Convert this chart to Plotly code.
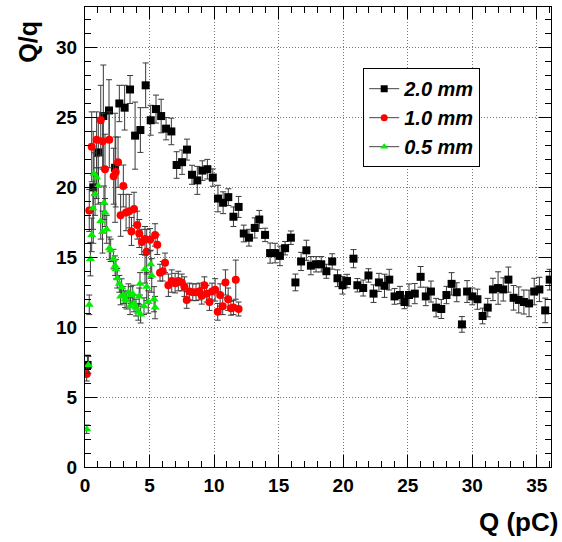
import plotly.graph_objects as go

# ---- data ----
x_2mm = [0.2, 0.64, 1.03, 1.42, 1.86, 2.33, 2.66, 3.07, 3.49, 3.88,
         4.29, 4.70, 5.09, 5.5, 5.9, 6.28, 6.69, 7.1, 7.52, 7.9,
         8.29, 8.7, 9.09, 9.48, 9.9, 10.3, 10.7, 11.1, 11.5, 11.9,
         12.3, 12.7, 13.15, 13.5, 13.95, 14.34, 14.73, 15.1, 15.5, 15.95,
         16.3, 16.74, 17.15, 17.5, 17.9, 18.3, 18.7, 19.15, 19.56, 19.95,
         20.3, 20.8, 21.1, 21.55, 21.96, 22.35, 22.77, 23.2, 23.57, 23.98,
         24.4, 24.75, 25.1, 25.55, 26.0, 26.4, 26.8, 27.2, 27.6, 28.0,
         28.4, 28.8, 29.2, 29.6, 30.0, 30.4, 30.8, 31.2, 31.6, 32.0,
         32.4, 32.8, 33.2, 33.6, 34.0, 34.4, 34.8, 35.2, 35.65, 36.0]
y_2mm = [7.3, 20.0, 22.5, 25.1, 25.5, 21.4, 26.0, 25.7, 27.0, 23.7,
         24.1, 27.3, 24.8, 25.6, 25.1, 24.2, 24.0, 21.6, 21.8, 22.7,
         20.9, 20.5, 21.2, 21.3, 20.7, 19.2, 18.9, 19.3, 17.9, 18.6,
         16.7, 16.4, 17.1, 17.7, 16.6, 15.3, 15.3, 15.1, 15.65, 16.4,
         13.2, 14.7, 15.5, 14.4, 14.5, 14.5, 14.0, 14.7, 13.5, 13.0,
         13.3, 14.9, 13.0, 12.8, 13.7, 12.4, 13.2, 12.96, 13.4, 12.2,
         12.3, 11.8, 12.3, 12.4, 13.6, 12.2, 12.55, 11.4, 11.3, 12.3,
         13.1, 12.5, 10.2, 12.55, 12.2, 12.0, 10.8, 11.4, 12.7, 12.8,
         12.7, 13.4, 12.1, 11.95, 11.8, 11.7, 12.55, 12.7, 11.2, 13.4]
e_2mm = [0.7, 4.0, 2.5, 3.65, 2.2, 3.9, 1.3, 1.6, 1.0, 2.4,
         1.6, 1.6, 1.07, 1.0, 1.2, 0.8, 0.95, 0.95, 0.87, 0.75,
         0.68, 1.0, 0.7, 0.7, 0.62, 0.95, 0.78, 0.6, 0.7, 0.75,
         0.6, 0.6, 0.72, 0.65, 0.48, 0.72, 0.7, 0.7, 0.48, 0.48,
         0.6, 0.65, 0.72, 0.65, 0.55, 0.55, 0.5, 0.55, 0.6, 0.63,
         0.48, 0.65, 0.48, 0.57, 0.48, 0.63, 0.65, 0.83, 0.74, 0.56,
         0.62, 0.48, 0.79, 0.72, 0.74, 0.66, 0.75, 0.66, 0.68, 0.62,
         0.8, 0.68, 0.56, 0.78, 0.6, 0.72, 0.56, 0.66, 0.8, 1.16,
         0.83, 0.9, 0.88, 0.93, 0.86, 0.95, 0.95, 0.87, 0.88, 0.74]

x_1mm = [0.13, 0.33, 0.52, 0.9, 1.22, 1.37, 1.55, 1.88, 2.22, 2.38,
         2.56, 2.76, 2.97, 3.18, 3.43, 3.6, 3.8, 4.05, 4.2, 4.4,
         4.65, 4.78, 5.04, 5.43, 5.6, 5.81, 6.02, 6.2, 6.46, 6.72,
         6.98, 7.23, 7.5, 7.7, 7.88, 8.09, 8.35, 8.6, 8.86, 9.04,
         9.25, 9.43, 9.64, 9.84, 10.08, 10.28, 10.47, 10.67, 10.88, 11.09,
         11.3, 11.5, 11.68, 11.9]
y_1mm = [6.65, 18.35, 22.9, 23.4, 24.8, 23.3, 21.3, 23.4, 20.8, 21.1,
         21.8, 18.0, 20.1, 18.2, 18.3, 16.85, 18.45, 17.3, 16.7, 16.1,
         16.3, 15.4, 16.25, 16.6, 15.9, 13.9, 14.0, 14.6, 13.0, 13.3,
         13.15, 13.3, 13.2, 12.9, 11.95, 12.55, 12.5, 12.5, 12.55, 12.25,
         13.0, 12.4, 11.8, 12.55, 12.67, 11.1, 12.3, 11.5, 13.2, 12.0,
         11.36, 11.4, 13.4, 11.3]
e_1mm = [0.5, 1.5, 2.5, 2.0, 2.5, 2.0, 2.5, 2.0, 2.0, 2.5,
         1.8, 1.5, 1.5, 1.3, 1.2, 1.0, 1.2, 1.0, 1.0, 0.9,
         0.9, 1.6, 0.8, 0.8, 0.7, 0.6, 0.7, 0.7, 0.8, 0.8,
         0.7, 0.7, 0.6, 0.7, 0.6, 0.6, 0.6, 0.6, 0.6, 0.6,
         0.6, 0.6, 0.6, 0.6, 0.8, 0.6, 0.8, 0.6, 0.9, 0.8,
         0.5, 0.5, 1.4, 0.5]

x_05mm = [0.13, 0.26, 0.33, 0.42, 0.52, 0.62, 0.7, 0.78, 0.9, 1.03,
          1.22, 1.36, 1.47, 1.55, 1.68, 1.88, 1.99, 2.2, 2.33, 2.4,
          2.5, 2.66, 2.76, 2.84, 2.97, 3.1, 3.23, 3.36, 3.49, 3.54,
          3.7, 3.8, 3.95, 4.13, 4.2, 4.26, 4.31, 4.57, 4.65, 4.78,
          4.9, 5.09, 5.17, 5.35, 5.43]
y_05mm = [2.7, 7.3, 11.6, 14.87, 16.6, 18.5, 20.97, 19.5, 20.7, 20.1,
          17.6, 16.8, 18.9, 18.2, 17.0, 15.65, 15.5, 14.87, 14.4, 14.15,
          13.5, 13.1, 12.2, 12.86, 12.3, 12.0, 11.9, 12.5, 11.5, 12.3,
          12.4, 11.7, 11.4, 11.1, 12.2, 13.1, 10.9, 11.5, 14.15, 12.9,
          11.8, 14.5, 13.7, 12.0, 11.4]
e_05mm = [0.3, 0.6, 0.7, 1.2, 1.2, 1.5, 1.5, 1.5, 1.5, 1.3,
          1.3, 1.5, 1.2, 1.0, 1.0, 0.8, 0.8, 0.7, 0.7, 0.7,
          0.7, 0.6, 0.6, 0.6, 0.6, 0.6, 0.6, 0.6, 0.6, 0.6,
          0.6, 0.6, 0.6, 0.6, 0.6, 0.8, 0.6, 0.6, 1.0, 1.0,
          0.8, 1.0, 1.2, 0.9, 0.8]

series_names = ["2.0 mm", "1.0 mm", "0.5 mm"]
x_tickvals = [0, 5, 10, 15, 20, 25, 30, 35]
y_tickvals = [0, 5, 10, 15, 20, 25, 30]

FONT = "Liberation Sans, Arial, Helvetica, sans-serif"
ERRCOL = "#3a3a3a"

fig = go.Figure()

styles = [
    (x_2mm, y_2mm, e_2mm, "black", "square", 8),
    (x_1mm, y_1mm, e_1mm, "#ff0000", "circle", 8),
    (x_05mm, y_05mm, e_05mm, "#00ee00", "triangle-up", 8),
]
for (xs, ys, es, col, sym, sz), name in zip(styles, series_names):
    fig.add_trace(go.Scatter(
        x=xs, y=ys, mode="markers", showlegend=False,
        marker=dict(color=col, symbol=sym, size=sz, line=dict(width=0)),
        error_y=dict(type="data", array=es, visible=True, color=ERRCOL,
                     thickness=1, width=3),
    ))
# legend entries (marker with the ROOT-style line through it)
for (xs, ys, es, col, sym, sz), name in zip(styles, series_names):
    fig.add_trace(go.Scatter(
        x=[None], y=[None], mode="lines+markers", name=f"<b><i>{name}</i></b>",
        line=dict(color="#444", width=1),
        marker=dict(color=col, symbol=sym, size=sz - 1),
    ))

axis_common = dict(
    showline=True, linecolor="black", linewidth=1, mirror="ticks",
    ticks="inside", ticklen=12, tickwidth=1, tickcolor="black",
    showgrid=True, gridcolor="#777", griddash="1px,2px", gridwidth=1,
    zeroline=False,
    tickfont=dict(family=FONT, size=19, color="black", weight="bold"),
    minor=dict(ticks="inside", ticklen=6, tickwidth=1, tickcolor="black",
               dtick=1, showgrid=False),
)

fig.update_layout(
    width=562, height=542,
    margin=dict(l=85, r=11, t=7, b=75),
    paper_bgcolor="white", plot_bgcolor="white",
    xaxis=dict(range=[0, 36.1], tickvals=x_tickvals, ticklabelstandoff=1, **axis_common),
    yaxis=dict(range=[0, 32.9], tickvals=y_tickvals, ticklabelstandoff=3, **axis_common),
    legend=dict(
        x=0.597, y=0.867, xanchor="left", yanchor="top",
        bordercolor="black", borderwidth=1, bgcolor="white",
        font=dict(family=FONT, size=20, color="black"),
        itemwidth=30, tracegroupgap=0,
    ),
    annotations=[
        dict(text="<b>Q/q</b>", xref="paper", yref="paper", x=-0.122, y=0.925,
             xanchor="center", yanchor="middle", textangle=-90, showarrow=False,
             font=dict(family=FONT, size=25, color="black")),
        dict(text="<b>Q (pC)</b>", xref="paper", yref="paper", x=1.02, y=-0.12,
             xanchor="right", yanchor="middle", showarrow=False,
             font=dict(family=FONT, size=26, color="black")),
    ],
)

fig.write_html("out.html", config={"displayModeBar": False},
               post_script="document.body.style.margin='0';document.body.style.overflow='hidden';")
